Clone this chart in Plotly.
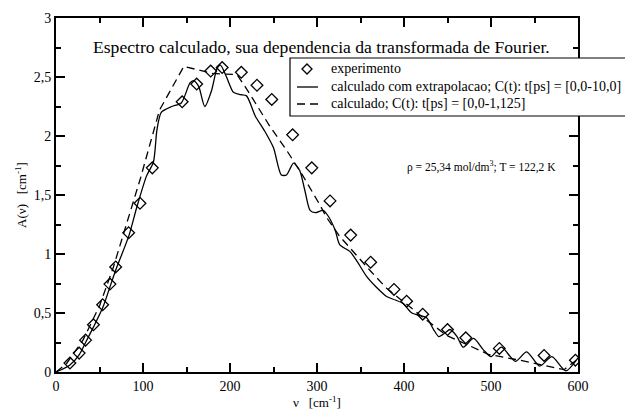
import plotly.graph_objects as go

# experimental points
exp_nu = [16, 26.6, 34, 43, 53.6, 62, 68.6, 83.5, 96.5, 110.7, 145, 161.7, 177.8, 191, 213, 231, 248, 272, 294,
          315, 338.7, 361.7, 388.5, 403, 421.5, 450, 471, 509.6, 561, 597]
exp_A = [0.076, 0.16, 0.27, 0.40, 0.57, 0.745, 0.89, 1.18, 1.43, 1.73, 2.29, 2.44, 2.55, 2.58, 2.54, 2.43, 2.31, 2.01, 1.73,
         1.45, 1.16, 0.93, 0.70, 0.60, 0.49, 0.36, 0.29, 0.20, 0.14, 0.10]

# calculated with extrapolation (solid)
sol_nu = [0, 16, 27, 34, 43, 54, 62, 69, 84, 93, 104, 112, 116, 121, 133, 144, 154, 158, 164, 171, 179, 185, 189,
          196, 204, 212, 219, 229, 240, 250, 259, 265, 273, 280, 286, 292, 298, 307, 313, 321, 326, 338, 345, 357,
          368, 380, 390, 399, 409, 418, 426, 434, 440, 447, 453, 461, 468, 480, 491, 500, 512, 528, 541, 556, 570,
          586, 600]
sol_A = [0, 0.06, 0.15, 0.25, 0.38, 0.55, 0.72, 0.87, 1.16, 1.40, 1.66, 1.78, 2.05, 2.20, 2.25, 2.28, 2.45, 2.47,
         2.42, 2.25, 2.39, 2.57, 2.60, 2.50, 2.37, 2.35, 2.34, 2.17, 2.04, 1.90, 1.67, 1.67, 1.77, 1.71, 1.54, 1.37,
         1.35, 1.37, 1.32, 1.20, 1.08, 1.02, 0.95, 0.81, 0.72, 0.64, 0.61, 0.58, 0.50, 0.48, 0.46, 0.36, 0.30, 0.33,
         0.36, 0.30, 0.21, 0.285, 0.19, 0.13, 0.21, 0.09, 0.17, 0.05, 0.13, 0.01, 0.12]

# calculated, short C(t) (dashed)
das_nu = [0, 12, 31, 50, 66, 78, 89, 97, 119, 147, 180, 208, 219, 232, 246, 265, 284, 303, 311, 326, 344, 361, 380,
          411, 424, 449, 497, 533, 584, 598]
das_A = [0, 0.07, 0.27, 0.56, 0.89, 1.18, 1.45, 1.64, 2.22, 2.59, 2.53, 2.52, 2.40, 2.24, 2.08, 1.88, 1.66, 1.42,
         1.31, 1.15, 1.00, 0.86, 0.71, 0.525, 0.45, 0.31, 0.15, 0.10, 0.02, 0.10]

x_ticks = [0, 100, 200, 300, 400, 500, 600]
x_labels = ["0", "100", "200", "300", "400", "500", "600"]
y_ticks = [0, 0.5, 1, 1.5, 2, 2.5, 3]
y_labels = ["0", "0,5", "1", "1,5", "2", "2,5", "3"]

legend_labels = ["experimento",
                 "calculado com extrapolacao; C(t): t[ps] = [0,0-10,0]",
                 "calculado; C(t): t[ps] = [0,0-1,125]"]

FONT = "Liberation Serif, Times New Roman, DejaVu Serif, serif"
BLACK = "black"
DASH = "8px,5px"

fig = go.Figure()
fig.add_trace(go.Scatter(x=exp_nu, y=exp_A, mode="markers", name=legend_labels[0], showlegend=False,
                         marker=dict(symbol="diamond-open", size=9, color=BLACK, line=dict(width=1.3))))
fig.add_trace(go.Scatter(x=sol_nu, y=sol_A, mode="lines", name=legend_labels[1], showlegend=False,
                         line=dict(color=BLACK, width=1.3, shape="spline", smoothing=0.7)))
fig.add_trace(go.Scatter(x=das_nu, y=das_A, mode="lines", name=legend_labels[2], showlegend=False,
                         line=dict(color=BLACK, width=1.3, dash=DASH)))

axis_common = dict(showgrid=False, zeroline=False, showline=True, linecolor=BLACK, linewidth=1.8,
                   ticks="inside", mirror="ticks", ticklen=9, tickwidth=1.5, tickcolor=BLACK, automargin=False,
                   tickfont=dict(family=FONT, size=14, color=BLACK))

fig.update_xaxes(range=[0, 600], tickvals=x_ticks, ticktext=x_labels,
                 minor=dict(ticks="inside", ticklen=5, tickwidth=1.5, tickcolor=BLACK, dtick=50, showgrid=False),
                 title=dict(text="ν   [cm<sup>-1</sup>]", font=dict(family=FONT, size=13, color=BLACK), standoff=0),
                 **axis_common)
fig.update_yaxes(range=[0, 3], tickvals=y_ticks, ticktext=y_labels,
                 minor=dict(ticks="inside", ticklen=5, tickwidth=1.5, tickcolor=BLACK, dtick=0.25, showgrid=False),
                 title=dict(text="A(ν)   [cm<sup>-1</sup>]", font=dict(family=FONT, size=13, color=BLACK), standoff=4),
                 **axis_common)

# plot-area pixel geometry helpers (page coordinates of reference) -> paper coords
PX0, PX1, PY0, PY1 = 56, 578, 18, 372
def px(xp):
    return (xp - PX0) / (PX1 - PX0)
def py(yp):
    return (PY1 - yp) / (PY1 - PY0)

fig.add_annotation(x=px(321), y=py(47), xref="paper", yref="paper",
                   text="Espectro calculado, sua dependencia da transformada de Fourier.",
                   showarrow=False, font=dict(family=FONT, size=17.6, color=BLACK), xanchor="center", yanchor="middle")
fig.add_annotation(x=px(405), y=py(166), xref="paper", yref="paper",
                   text="ρ = 25,34 mol/dm<sup>3</sup>; T = 122,2 K",
                   showarrow=False, font=dict(family=FONT, size=11.5, color=BLACK), xanchor="left", yanchor="middle")

# legend box drawn by hand
fig.add_shape(type="rect", xref="paper", yref="paper", x0=px(290), x1=px(660), y0=py(116), y1=py(58),
              line=dict(color=BLACK, width=1.2), fillcolor="white", layer="above")
cx, cy, dx, dy = px(307), py(69), 5.0 / (PX1 - PX0), 5.0 / (PY1 - PY0)
fig.add_shape(type="path", xref="paper", yref="paper",
              path=f"M {cx-dx},{cy} L {cx},{cy+dy} L {cx+dx},{cy} L {cx},{cy-dy} Z",
              line=dict(color=BLACK, width=1.3), layer="above")
fig.add_shape(type="line", xref="paper", yref="paper", x0=px(297), x1=px(318), y0=py(87), y1=py(87),
              line=dict(color=BLACK, width=1.3), layer="above")
fig.add_shape(type="line", xref="paper", yref="paper", x0=px(297), x1=px(318), y0=py(104), y1=py(104),
              line=dict(color=BLACK, width=1.3, dash=DASH), layer="above")
for lbl, yrow in zip(legend_labels, [69, 87, 104]):
    fig.add_annotation(x=px(329), y=py(yrow), xref="paper", yref="paper", text=lbl, showarrow=False,
                       font=dict(family=FONT, size=14, color=BLACK), xanchor="left", yanchor="middle")

# page body has an 8px margin; compensate so the plot area lands at the reference pixels
fig.update_layout(
    template="none",
    width=625, height=402,
    margin=dict(l=48, r=55, t=10, b=38, autoexpand=False),
    paper_bgcolor="white", plot_bgcolor="white",
    font=dict(family=FONT, color=BLACK),
    showlegend=False,
)

fig.write_html("out.html")
